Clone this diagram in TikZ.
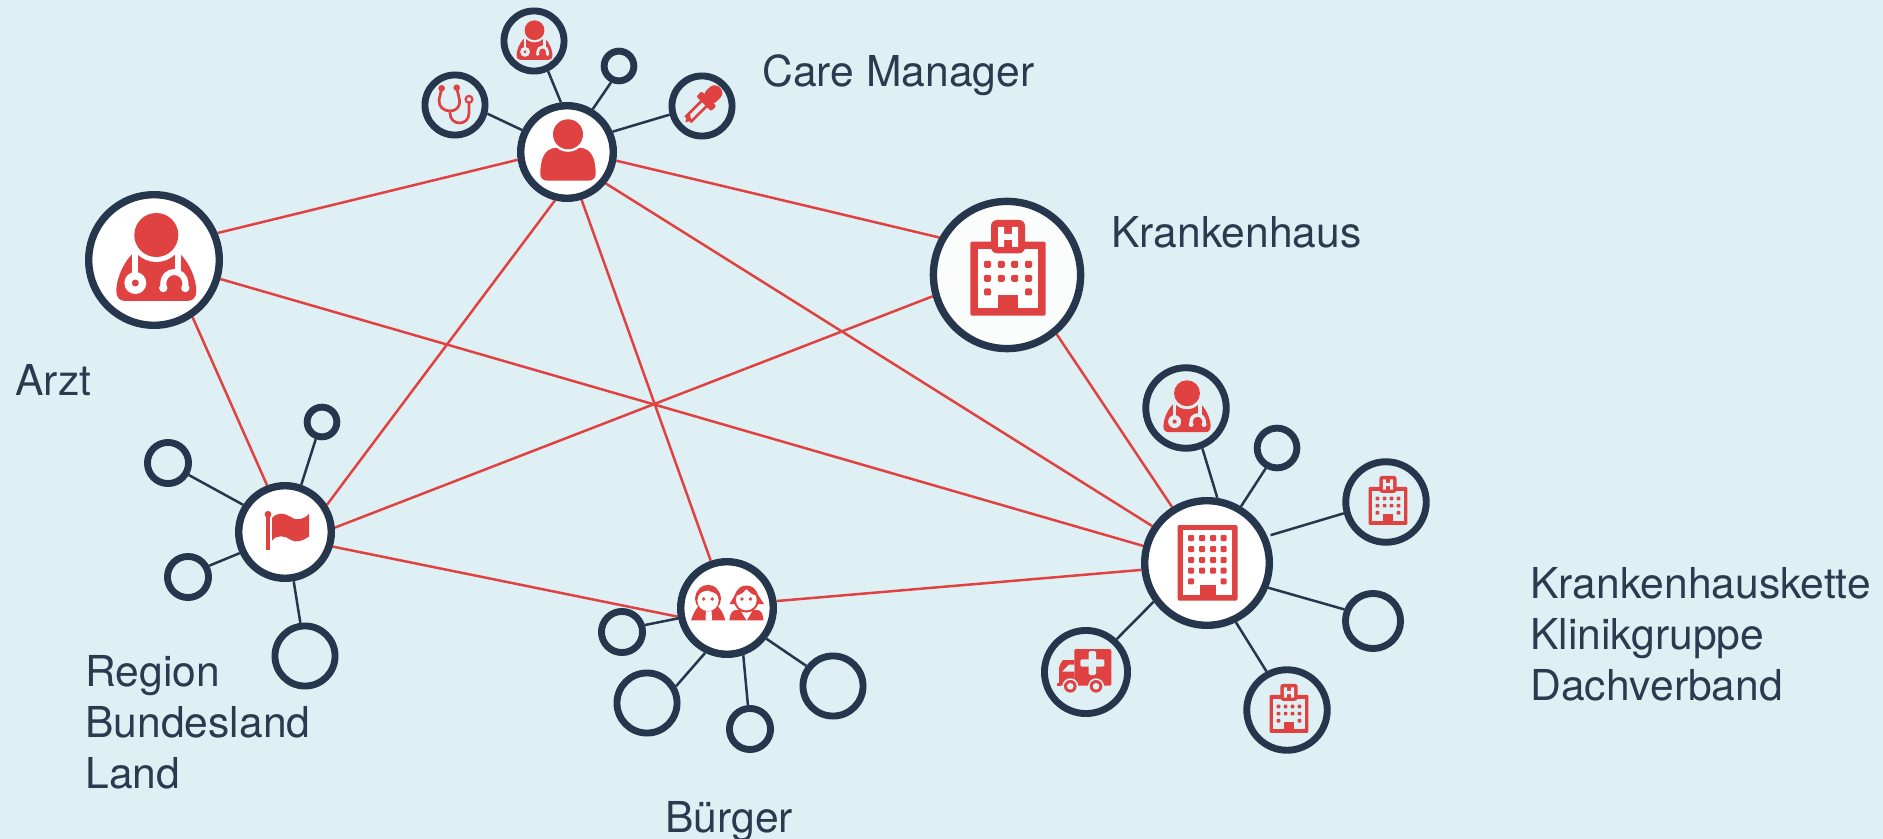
\documentclass[tikz,border=0pt]{standalone}
\usepackage{fontspec}
\setmainfont{TeX Gyre Heros}
\usetikzlibrary{backgrounds}
\definecolor{bgc}{RGB}{223,240,245}
\definecolor{navy}{RGB}{38,55,77}
\definecolor{redc}{RGB}{224,65,65}
\definecolor{txtc}{RGB}{42,59,79}
\tikzset{
  x=0.5pt,y=-0.5pt,
  ring/.style 2 args={circle,draw=navy,inner sep=0pt,line width=#2*0.5pt,minimum size=(2*#1-#2)*0.5pt},
  hubn/.style={ring={#1}{7.4},fill=white},
  leafn/.style={ring={#1}{6.9}},
  redline/.style={draw=redc,line width=1.25pt},
  spoke/.style={draw=navy,line width=1.25pt},
  lab/.style={font=\fontsize{21.3}{25.6}\selectfont,text=txtc,inner sep=0pt,align=left},
}
% #1 node, #2 scale, #3 hole colour, #4 offset
\newcommand\docicon[4]{\begin{scope}[shift={(#1)},shift={#4},scale=#2]
  \def\s{#2}
  \fill[redc] (-24,-6) .. controls (-34,4) and (-40,20) .. (-40,31) .. controls (-40,37) and (-37,41) .. (-31,41) -- (31,41) .. controls (37,41) and (40,37) .. (40,31) .. controls (40,20) and (34,4) .. (24,-6) -- cycle;
  \fill[#3] (0,-25) circle (27);
  \fill[redc] (0,-25) circle (22);
  \draw[#3,line width=\s*3pt] (-21,-8) -- (-21,16);
  \fill[#3] (-21,23) circle (11);
  \fill[redc] (-21,23) circle (3.5);
  \draw[#3,line width=\s*3pt] (22,-8) -- (22,12);
  \draw[#3,line width=\s*3pt] (7,28) -- (7,23) arc (180:360:11) -- (29,28);
  \fill[#3] (7,28) circle (4.2) (29,28) circle (4.2);
\end{scope}}
\newcommand\hospicon[4]{\begin{scope}[shift={(#1)},shift={#4},scale=#2]
  \def\s{#2}
  \fill[redc,rounded corners=\s*1pt] (-37.7,-33.3) rectangle (37.7,40.7);
  \fill[#3] (-30.4,-26) rectangle (30.4,33.4);
  \fill[redc,rounded corners=\s*3pt] (-17,-55) rectangle (17,-21.7);
  \fill[#3] (-10,-48) rectangle (-4,-28) (4,-48) rectangle (10,-28) (-4,-41) rectangle (4,-35);
  \foreach \wx in {-20.5,-6.7,6.7,20.5}{\foreach \wy in {-10.7,3.3}{
    \fill[redc,rounded corners=\s*0.7pt] (\wx-3.5,\wy-3.5) rectangle (\wx+3.5,\wy+3.5);}}
  \foreach \wx in {-20.5,20.5}{\fill[redc,rounded corners=\s*0.7pt] (\wx-3.5,13.5) rectangle (\wx+3.5,20.5);}
  \fill[redc] (-9.7,20.3) rectangle (9.7,40);
\end{scope}}
\begin{document}
\begin{tikzpicture}
\useasboundingbox (0,0) rectangle (1883,839);
% hubs
\node[hubn=50] (cm) at (567,152) {};
\node[hubn=69] (arzt) at (154,260) {};
\node[hubn=77.3,fill={rgb,255:red,251;green,253;blue,253}] (kh) at (1007,275) {};
\node[hubn=66] (kette) at (1207,563) {};
\node[hubn=50] (buerger) at (727,608) {};
\node[hubn=50] (region) at (285,532) {};
% care manager leaves
\node[leafn=33.5] (cmst) at (455,105) {};
\node[leafn=33.5] (cmdoc) at (534,41) {};
\node[leafn=18.3] (cmsm) at (619,66) {};
\node[leafn=33.5] (cmdr) at (702,106) {};
% chain leaves
\node[leafn=43.7] (kdoc) at (1186,408) {};
\node[leafn=23.3] (ksm) at (1277,448) {};
\node[leafn=43.7] (kho1) at (1386,502) {};
\node[leafn=31] (kemp) at (1373,621) {};
\node[leafn=43.7] (kho2) at (1287,710) {};
\node[leafn=45] (kamb) at (1086,672) {};
% citizen leaves
\node[leafn=24] (bl) at (622,632) {};
\node[leafn=33.5] (bll) at (647,703) {};
\node[leafn=24] (bb) at (750,729) {};
\node[leafn=33.5] (br) at (833,686) {};
% region leaves
\node[leafn=18.3] (rt) at (322,422) {};
\node[leafn=24] (rl) at (168,463) {};
\node[leafn=24] (rl2) at (188,577) {};
\node[leafn=33.5] (rb) at (305,656) {};
% connectors
\begin{scope}[on background layer]
\fill[bgc] (0,0) rectangle (1883,839);
\draw[redline] (arzt.23) -- (cm.189);
\draw[redline] (arzt.-16) -- (kette.165.8);
\draw[redline] (arzt.-56.4) -- (region.111.4);
\draw[redline] (cm.-10) -- (kh.151);
\draw[redline] (cm.256.5) -- (region.33.7);
\draw[redline] (cm.-73) -- (buerger.109.5);
\draw[redline] (cm.-39.4) -- (kette.146);
\draw[redline] (kh.196.3) -- (region.5.6);
\draw[redline] (kh.-50.8) -- (kette.122.6);
\draw[redline] (region.-17) -- (buerger.190);
\draw[redline] (buerger.8.4) -- (kette.186.6);
\draw[spoke] (cm.154) -- (cmst.-15.6);
\draw[spoke] (cm.97) -- (cmdoc.-65);
\draw[spoke] (cm.59) -- (cmsm.-116);
\draw[spoke] (cm.24) -- (cmdr.195.4);
\draw[spoke] (kette.81.6) -- (kdoc.-68);
\draw[spoke] (kette.59.5) -- (ksm.-119.4);
\draw[spoke,shorten <=1.7pt] (kette.24.7) -- (kho1.195);
\draw[spoke] (kette.-22.7) -- (kemp.158.6);
\draw[spoke] (kette.-64) -- (kho2.118);
\draw[spoke] (kette.216) -- (kamb.47);
\draw[spoke] (buerger.192.7) -- (bl.17.8);
\draw[spoke] (buerger.244) -- (bll.30.8);
\draw[spoke] (buerger.-71) -- (bb.95.5);
\draw[spoke] (buerger.-38.7) -- (br.143.5);
\draw[spoke] (region.71.9) -- (rt.-110);
\draw[spoke] (region.147) -- (rl.-30.4);
\draw[spoke] (region.205) -- (rl2.28.6);
\draw[spoke] (region.-80) -- (rb.98);
\end{scope}
% icons
\docicon{arzt}{1}{white}{(2.3,0)}
\docicon{cmdoc}{0.45}{bgc}{(0.5,0.5)}
\docicon{kdoc}{0.59}{bgc}{(1,0)}
\hospicon{kh}{1}{white}{(1,0)}
\hospicon{kho1}{0.513}{bgc}{(2,2)}
\hospicon{kho2}{0.513}{bgc}{(2,2)}
% person
\begin{scope}[shift={(cm)},shift={(1,0)}]
  \fill[redc] (-20,28.7) .. controls (-25,28.7) and (-27.7,26) .. (-27.7,22) .. controls (-27.7,10) and (-25,-4.3) .. (-11,-4.3) -- (11,-4.3) .. controls (25,-4.3) and (27.7,10) .. (27.7,22) .. controls (27.7,26) and (25,28.7) .. (20,28.7) -- cycle;
  \fill[white] (0,-17.7) circle (17.5);
  \fill[redc] (0,-17.7) circle (15);
\end{scope}
% dropper
\begin{scope}[shift={(cmdr)},shift={(-16.7,16.3)},rotate=45]
  \fill[redc] (0,0) -- (6,-3.5) -- (6,3.5) -- cycle;
  \draw[redc,line width=1.3pt,fill=bgc] (5,-3.6) -- (30,-3.6) -- (30,3.6) -- (5,3.6) -- cycle;
  \fill[redc] (5,-3.6) -- (10,-3.6) -- (5,3.6) -- cycle;
  \fill[redc,rounded corners=1pt] (26,-10.5) rectangle (33.5,10.5);
  \fill[redc,rounded corners=3.5pt] (30,-7.5) rectangle (49,7.5);
\end{scope}
% stethoscope
\begin{scope}[shift={(cmst)}]
  \draw[redc,line width=1.35pt,line join=round] (-13.3,-16.7) -- (-16,-5) .. controls (-16.5,2) and (-11,6) .. (-5,6) .. controls (1,6) and (5.5,2) .. (4.5,-5) -- (1.7,-17.3);
  \draw[redc,line width=1.35pt] (-5,6) -- (-5,8) .. controls (-5,15) and (0,18) .. (4.5,18) .. controls (9,18) and (14,15) .. (14,8) -- (14,-2);
  \fill[redc] (-13.3,-16.7) circle (3.3) (1.7,-17.3) circle (3.3) (14,-5.7) circle (4.6);
  \fill[bgc] (14,-5.7) circle (2);
\end{scope}
% flag
\begin{scope}[shift={(region)}]
  \fill[redc] (-18.6,-17) rectangle (-15.4,18);
  \fill[redc] (-17,-17.7) circle (3.4);
  \fill[redc] (-13,-14) .. controls (-8,-20) and (0,-19) .. (5,-15.5) .. controls (10,-11) and (18,-12) .. (24,-18) -- (24,4.5) .. controls (18,9) and (11,11) .. (6,8) .. controls (1,4) and (-8,2) .. (-13,8.5) -- cycle;
\end{scope}
% citizens
\begin{scope}[shift={(buerger)}]
  \fill[redc] (-36,12.3) .. controls (-33,4) and (-30,-2) .. (-26,-3) -- (-12,-3) .. controls (-8,-2) and (-4,4) .. (-1.7,12.3) -- cycle;
  \fill[white] (-21.5,12.5) -- (-21,1) -- (-15.5,1) -- (-15,12.5) -- cycle;
  \fill[redc] (-19,-9.5) circle (13);
  \fill[white] (-19,-7.5) circle (10.6);
  \fill[redc] (-30,-12) .. controls (-27,-16) and (-23,-17) .. (-19,-17.5) .. controls (-15,-16) and (-11,-15) .. (-8,-12) .. controls (-8,-19) and (-12,-23) .. (-19,-23) .. controls (-26,-23) and (-30,-19) .. (-30,-12) -- cycle;
  \fill[redc] (-23.3,-9) circle (1.9) (-14.7,-9) circle (1.9);
  % girl
  \fill[redc] (2.3,12.3) .. controls (3,6) and (5,2) .. (9,2) -- (13,2) -- (19.5,12.3) -- cycle;
  \fill[redc] (36.5,12.3) .. controls (36,6) and (34,2) .. (30,2) -- (26,2) -- (20,12.3) -- cycle;
  \fill[redc] (2.5,-4) -- (8,-13) .. controls (10,-20) and (15,-22.5) .. (19.5,-22.5) .. controls (24,-22.5) and (29,-20) .. (31,-13) -- (37,-4) .. controls (34,-3) and (31,-4) .. (28,-6) -- (11,-6) .. controls (8,-4) and (5,-3) .. (2.5,-4) -- cycle;
  \fill[redc] (19.3,-8) circle (12.6);
  \fill[white] (19.3,-8) circle (10.4);
  \fill[redc] (9,-12.5) .. controls (13,-13) and (17,-15) .. (19.5,-20) .. controls (22,-15) and (26,-13) .. (30,-12.5) .. controls (28,-20) and (24,-22) .. (19.5,-22) .. controls (15,-22) and (11,-20) .. (9,-12.5) -- cycle;
  \fill[redc] (15,-9) circle (1.9) (23.5,-9) circle (1.9);
\end{scope}
% chain building
\begin{scope}[shift={(kette)},shift={(0.5,0)}]
  \fill[redc,rounded corners=1pt] (-30,-38) rectangle (30,37.7);
  \fill[white] (-24.7,-32.7) rectangle (24.7,32.4);
  \foreach \wx in {-16.5,-5.5,5.5,16}{\foreach \wy in {-25,-14,-3,7.7}{
    \fill[redc,rounded corners=0.5pt] (\wx-3,\wy-3) rectangle (\wx+3,\wy+3);}}
  \foreach \wx in {-16.5,16}{\fill[redc,rounded corners=0.5pt] (\wx-3,15.3) rectangle (\wx+3,21.3);}
  \fill[redc] (-8,21.7) rectangle (8,37);
\end{scope}
% ambulance
\begin{scope}[shift={(kamb)}]
  \fill[redc,rounded corners=0.7pt] (-11.7,-23) rectangle (25.3,13.7);
  \fill[redc] (-27,13.7) -- (-27,-4) .. controls (-27,-7) and (-25,-9) .. (-23,-12) -- (-11.7,-12) -- (-11.7,13.7) -- cycle;
  \fill[redc] (-29,10.5) rectangle (-25,13.5);
  \fill[bgc] (-23.7,-0.5) -- (-17,-7.5) -- (-11.7,-7.5) -- (-11.7,-0.5) -- cycle;
  \fill[bgc,rounded corners=0.7pt] (-5.7,-12.7) rectangle (18.3,-5.3);
  \fill[bgc,rounded corners=0.7pt] (2.6,-21) rectangle (10,3);
  \fill[bgc] (-15.7,14.3) circle (8) (10,14.3) circle (8);
  \fill[redc] (-15.7,14.3) circle (6.3) (10,14.3) circle (6.3);
  \fill[bgc] (-15.7,14.3) circle (3.3) (10,14.3) circle (3.3);
\end{scope}
% labels
\node[lab,anchor=base west] (lcm) at (762,87) {Care Manager};
\node[lab,anchor=base west] (lkh) at (1111,248) {Krankenhaus};
\node[lab,anchor=base west] (larzt) at (15,395) {Arzt};
\node[lab,anchor=base west] (lbg) at (665,832) {Bürger};
\node[lab,anchor=north west] (lreg) at (85,655) {Region\\Bundesland\\Land};
\node[lab,anchor=north west] (lket) at (1530,567) {Krankenhauskette\\Klinikgruppe\\Dachverband};
\end{tikzpicture}
\end{document}
